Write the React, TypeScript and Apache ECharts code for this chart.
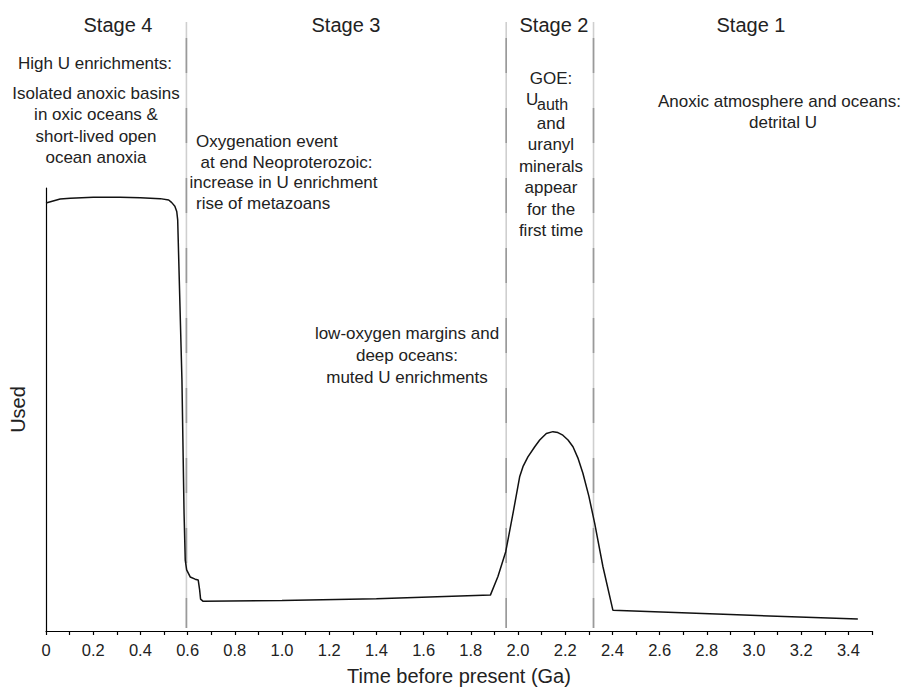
import React, { useEffect, useRef } from "react";
import * as echarts from "echarts";

// Curve: [time before present (Ga), U enrichment (relative)]
const timeGa: number[] = [
  0, 0.06, 0.103, 0.2, 0.314, 0.4, 0.484, 0.52, 0.533, 0.546, 0.554, 0.558, 0.576, 0.585, 0.59, 0.596,
  0.611, 0.632, 0.645, 0.651, 0.655, 0.666, 1.0, 1.4, 1.883, 1.915, 1.948, 1.979, 2.007,
  2.021, 2.042, 2.071, 2.092, 2.12, 2.148, 2.169, 2.19, 2.212, 2.233, 2.255, 2.275, 2.3, 2.325,
  2.36, 2.402, 2.9, 3.44,
];
const usedValues: number[] = [
  96.6, 97.5, 97.7, 97.9, 97.9, 97.8, 97.6, 97.3, 96.7, 95.9, 94.7, 92.8, 56.7, 26.6, 16.0, 13.8,
  12.2, 11.7, 11.5, 9.3, 7.2, 6.7, 6.9, 7.3, 8.1, 12.3, 17.9, 26.6, 34.8,
  37.1, 39.3, 41.6, 43.1, 44.6, 45.0, 44.8, 44.2, 43.1, 41.6, 38.9, 35.6, 30.5, 24.3,
  14.5, 4.7, 3.7, 2.7,
];

// Stage boundaries (Ga)
const stageBoundaries: number[] = [0.595, 1.95, 2.32];
const stageNames: string[] = ["Stage 4", "Stage 3", "Stage 2", "Stage 1"];

const xMin = 0;
const xMax = 3.5;
const xInterval = 0.1;

const FONT = "'Liberation Sans', Arial, Helvetica, sans-serif";
const TXT = "#222";

export default function App() {
  const ref = useRef<HTMLDivElement | null>(null);

  useEffect(() => {
    if (!ref.current) return;
    const chart = echarts.init(ref.current, undefined, { renderer: "svg" });
    const data = timeGa.map((t, i) => [t, usedValues[i]]);

    chart.setOption({
      animation: false,
      grid: { left: 45.7, right: 31, top: 188, bottom: 60 },
      xAxis: {
        type: "value",
        min: xMin,
        max: xMax,
        interval: xInterval,
        name: "Time before present (Ga)",
        nameLocation: "middle",
        nameGap: 35,
        nameTextStyle: { fontSize: 20, color: TXT, fontFamily: FONT },
        axisLine: { show: true, lineStyle: { color: "#000", width: 1.2 } },
        axisTick: { show: true, length: 4, lineStyle: { color: "#000", width: 1.2 } },
        splitLine: { show: false },
        axisLabel: {
          margin: 10,
          fontSize: 16.5,
          color: TXT,
          fontFamily: FONT,
          showMaxLabel: true,
          formatter: (v: number) => {
            const k = Math.round(v * 10);
            if (k % 2 !== 0) return "";
            return k === 0 ? "0" : (k / 10).toFixed(1);
          },
        },
      },
      yAxis: {
        type: "value",
        min: 0,
        max: 100,
        name: "Used",
        nameLocation: "middle",
        nameGap: 18,
        nameRotate: 90,
        nameTextStyle: { fontSize: 20, color: TXT, fontFamily: FONT },
        axisLine: { show: true, lineStyle: { color: "#000", width: 1.2 } },
        axisTick: { show: false },
        axisLabel: { show: false },
        splitLine: { show: false },
      },
      series: [
        {
          type: "line",
          data,
          showSymbol: false,
          symbol: "none",
          smooth: false,
          lineStyle: { color: "#111", width: 1.5 },
          z: 5,
        },
      ],
    });

    const yBottom = chart.convertToPixel({ gridIndex: 0 }, [0, 0])[1];
    const yTop = 22;
    const lines: any[] = [];
    stageBoundaries.forEach((b) => {
      const px = chart.convertToPixel({ gridIndex: 0 }, [b, 0])[0];
      lines.push({
        type: "line",
        shape: { x1: px, y1: yTop, x2: px, y2: yBottom - 3 },
        style: { stroke: "#cfcfcf", lineWidth: 1.6 },
        z: 1,
      });
      lines.push({
        type: "line",
        shape: { x1: px, y1: yTop, x2: px, y2: yBottom - 3 },
        style: { stroke: "#9a9a9a", lineWidth: 1.6, lineDash: [35, 35], lineDashOffset: 54 },
        z: 2,
      });
    });

    const stageX = [118, 346, 554, 751];
    const texts: any[] = stageNames.map((s, i) => ({
      type: "text",
      x: stageX[i],
      y: 25,
      style: {
        text: s,
        fontSize: 20,
        fontFamily: FONT,
        fill: TXT,
        align: "center",
        verticalAlign: "middle",
      },
      z: 10,
    }));

    const mk = (
      text: string,
      x: number,
      y: number,
      align: string = "center",
      size: number = 17
    ) => ({
      type: "text",
      x,
      y,
      style: {
        text,
        fontSize: size,
        fontFamily: FONT,
        fill: TXT,
        align,
        verticalAlign: "middle",
      },
      z: 10,
    });

    texts.push(mk("High U enrichments:", 95, 63));
    ["Isolated anoxic basins", "in oxic oceans &", "short-lived open", "ocean anoxia"].forEach(
      (t, i) => texts.push(mk(t, 96, 93 + i * 21.5))
    );
    texts.push(mk("Oxygenation event", 196, 141, "left"));
    texts.push(mk("at end Neoproterozoic:", 200.5, 162, "left"));
    texts.push(mk("increase in U enrichment", 189.5, 182.5, "left"));
    texts.push(mk("rise of metazoans", 196, 203.5, "left"));

    ["low-oxygen margins and", "deep oceans:", "muted U enrichments"].forEach((t, i) =>
      texts.push(mk(t, 407, 333 + i * 22))
    );

    texts.push(mk("GOE:", 551, 78));
    texts.push(mk("U", 526, 99, "left"));
    texts.push(mk("auth", 537, 104, "left", 16));
    ["and", "uranyl", "minerals", "appear", "for the", "first time"].forEach((t, i) =>
      texts.push(mk(t, 551, 123 + i * 21.5))
    );

    texts.push(mk("Anoxic atmosphere and oceans:", 658, 101, "left"));
    texts.push(mk("detrital U", 783, 122));

    chart.setOption({ graphic: { elements: [...lines, ...texts] } });

    return () => chart.dispose();
  }, []);

  return (
    <div
      ref={ref}
      style={{ position: "fixed", left: 0, top: 0, width: 903, height: 691, background: "#fff" }}
    />
  );
}
